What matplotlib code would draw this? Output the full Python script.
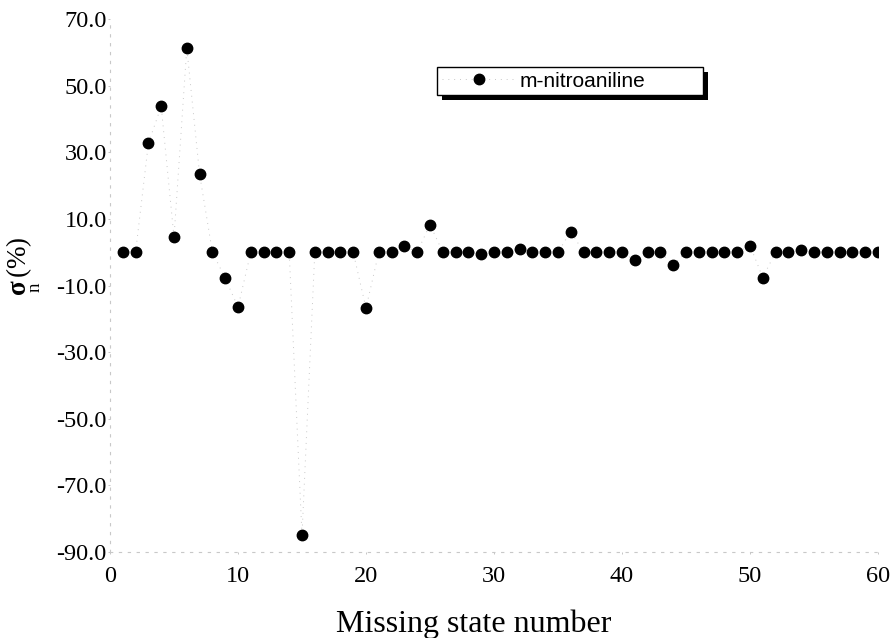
import matplotlib
matplotlib.use("Agg")
import matplotlib.pyplot as plt
from matplotlib.patches import Rectangle
from matplotlib.transforms import IdentityTransform

states = list(range(1, 61))
sigma = [0, 0, 32.7, 43.8, 4.5, 61.3, 23.4, 0, -7.8, -16.5,
         0, 0, 0, 0, -85.0, 0, 0, 0, 0, -16.8,
         0, 0, 1.8, 0, 8.3, 0, 0, 0, -0.4, 0,
         0, 1.1, 0, 0, 0, 6.2, 0, 0, 0, 0,
         -2.4, 0, 0, -3.9, 0, 0, 0, 0, 0, 2.0,
         -7.6, 0, 0, 0.6, 0, 0, 0, 0, 0, 0]
series_name = "m-nitroaniline"
yticks = [70, 50, 30, 10, -10, -30, -50, -70, -90]
xticks = [0, 10, 20, 30, 40, 50, 60]

plt.rcParams["mathtext.fontset"] = "custom"
plt.rcParams["mathtext.rm"] = "Liberation Serif"
plt.rcParams["mathtext.it"] = "Liberation Serif:italic"
plt.rcParams["mathtext.bf"] = "Liberation Serif:bold"

W, H = 893, 638
fig = plt.figure(figsize=(W/100, H/100), dpi=100)
L, R, T, B = 110, 878, 19, 552
ax = fig.add_axes([L/W, 1-B/H, (R-L)/W, (B-T)/H])

ax.plot(states, sigma, color="#c8c8c8", lw=0.7, ls=(0, (1, 5)),
        marker="o", ms=7.5, mfc="black", mec="black", label=series_name)

ax.set_xlim(0, 60)
ax.set_ylim(-90, 70)
ax.set_xticks(xticks)
ax.set_yticks(yticks)
ax.set_yticklabels([f"{v:.1f}" for v in yticks])

for s in ["top", "right"]:
    ax.spines[s].set_visible(False)
for s in ["left", "bottom"]:
    ax.spines[s].set_color("#c8c8c8")
    ax.spines[s].set_linewidth(0.8)
    ax.spines[s].set_linestyle((0, (2, 6)))

serif = ["Liberation Serif", "DejaVu Serif"]
ax.tick_params(axis="both", length=1.5, width=0.6, color="#bbbbbb", direction="out",
               labelsize=17.5)
ax.tick_params(axis="y", pad=0.8)
ax.tick_params(axis="x", pad=8.5)
for lab in ax.get_xticklabels() + ax.get_yticklabels():
    lab.set_family(serif)

fig.text(474/W, 1-632/H, "Missing state number", fontsize=23, family=serif,
         ha="center", va="baseline")
fig.text(24/W, 1-266/H, r"$\underset{\mathrm{n}}{\mathbf{σ}}\,$(%)", fontsize=19.5, family=serif,
         rotation=90, ha="center", va="center")

lx0, lx1, ly0, ly1 = 437, 703, 67, 93
bx = (lx0-L)/(R-L)
bw = (lx1-lx0)/(R-L)
btop = (B-ly0)/(B-T)
bh = (ly1-ly0)/(B-T)
leg = ax.legend(loc="upper left", bbox_to_anchor=(bx, btop-bh, bw, bh), mode="expand",
                prop={"family": ["Liberation Sans", "DejaVu Sans"], "size": 15},
                frameon=True, fancybox=False, shadow=False, framealpha=1.0,
                borderpad=0.22, handlelength=3.6, handletextpad=0.15, borderaxespad=0)
leg.get_frame().set_edgecolor("black")
leg.get_frame().set_facecolor("white")
leg.get_frame().set_linewidth(1.0)
leg.set_zorder(6)

fig.canvas.draw()
bb = leg.get_window_extent()
shadow = Rectangle((bb.x0 + 5, bb.y0 - 5), bb.width, bb.height, transform=IdentityTransform(),
                   facecolor="black", edgecolor="none", zorder=5.5, clip_on=False)
ax.add_artist(shadow)

fig.savefig("out.png", dpi=100)
